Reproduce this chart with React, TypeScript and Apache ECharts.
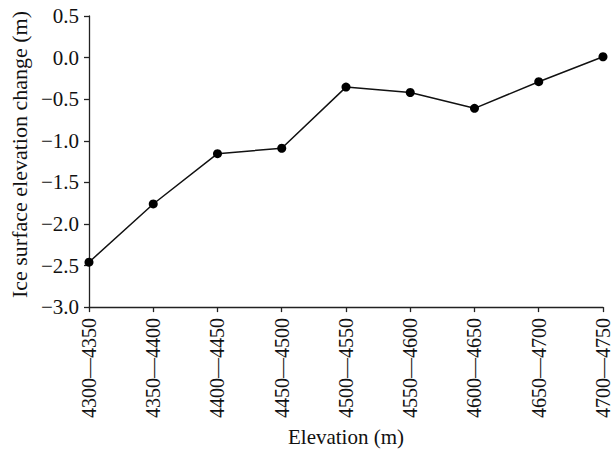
import React, { useEffect, useRef } from "react";
import * as echarts from "echarts";

const categories = [
  "4300—4350",
  "4350—4400",
  "4400—4450",
  "4450—4500",
  "4500—4550",
  "4550—4600",
  "4600—4650",
  "4650—4700",
  "4700—4750",
];
const values = [-2.46, -1.76, -1.155, -1.09, -0.355, -0.42, -0.61, -0.29, 0.01];
const yMin = -3.0;
const yMax = 0.5;
const yInterval = 0.5;
const xName = "Elevation (m)";
const yName = "Ice surface elevation change (m)";

const FONT = "'Liberation Serif', 'Times New Roman', serif";

export default function App() {
  const ref = useRef<HTMLDivElement>(null);
  useEffect(() => {
    document.body.style.margin = "0";
    if (!ref.current) return;
    const chart = echarts.init(ref.current, null, { renderer: "svg" });
    chart.setOption({
      animation: false,
      backgroundColor: "#ffffff",
      grid: { left: 83, right: 8, top: 16, bottom: 140, containLabel: false },
      xAxis: {
        type: "category",
        data: categories,
        boundaryGap: false,
        name: xName,
        nameLocation: "middle",
        nameGap: 114,
        nameTextStyle: { fontFamily: FONT, fontSize: 21, color: "#111" },
        axisLine: { onZero: false, lineStyle: { color: "#222", width: 1.3 } },
        axisTick: { alignWithLabel: true, length: 5, lineStyle: { color: "#222", width: 1.3 } },
        axisLabel: {
          rotate: 90,
          interval: 0,
          margin: 11,
          fontFamily: FONT,
          fontSize: 20,
          color: "#111",
        },
        splitLine: { show: false },
      },
      yAxis: {
        type: "value",
        min: yMin,
        max: yMax,
        interval: yInterval,
        name: yName,
        nameLocation: "middle",
        nameGap: 54,
        nameTextStyle: { fontFamily: FONT, fontSize: 22, color: "#111", padding: [0, 0, 0, 14] },
        axisLine: { show: true, lineStyle: { color: "#222", width: 1.3 } },
        axisTick: { show: true, length: 5, lineStyle: { color: "#222", width: 1.3 } },
        axisLabel: {
          margin: 10,
          fontFamily: FONT,
          fontSize: 21,
          color: "#111",
          formatter: (v: number) => {
            const s = Math.abs(v).toFixed(1);
            return v < -1e-9 ? "\u2212" + s : s;
          },
        },
        splitLine: { show: false },
      },
      series: [
        {
          type: "line",
          data: values,
          symbol: "circle",
          symbolSize: 9,
          itemStyle: { color: "#000" },
          lineStyle: { color: "#111", width: 1.5 },
        },
      ],
    });
    return () => chart.dispose();
  }, []);
  return <div ref={ref} style={{ width: 613, height: 452 }} />;
}
